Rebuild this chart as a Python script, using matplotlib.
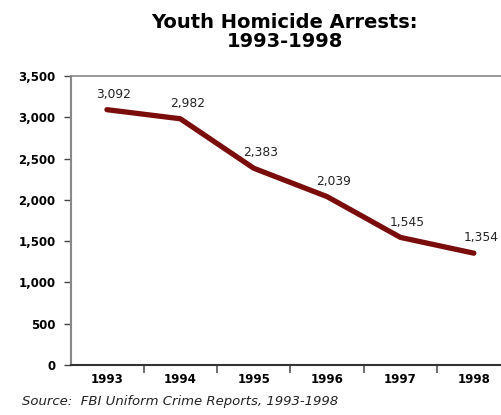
import matplotlib
matplotlib.use('Agg')
import matplotlib.pyplot as plt

# Data
years = ['1993', '1994', '1995', '1996', '1997', '1998']
arrests = [3092, 2982, 2383, 2039, 1545, 1354]
y_ticks = [0, 500, 1000, 1500, 2000, 2500, 3000, 3500]
source = 'Source:  FBI Uniform Crime Reports, 1993-1998'

fig = plt.figure(figsize=(5.01, 4.15), dpi=100)
ax = fig.add_axes([0.1417, 0.1205, 0.8583, 0.6964])

pos = list(range(len(years)))
ax.plot(pos, arrests, color='#7a0c0c', lw=3.8, solid_capstyle='round',
        solid_joinstyle='round', clip_on=False)

for x, v in zip(pos, arrests):
    ax.annotate(f'{v:,}', (x, v), xytext=(5, 11), textcoords='offset points',
                ha='center', va='center', fontsize=8.8, color='#222222')

ax.set_xlim(-0.49, 5.37)
ax.set_ylim(0, 3500)

ax.set_yticks(y_ticks)
ax.set_yticklabels([f'{t:,}' for t in y_ticks], fontsize=8.5, fontweight='bold')
ax.tick_params(axis='y', length=5, width=1, color='#444444', pad=6)

# category labels centered, tick marks between categories
ax.set_xticks(pos)
ax.set_xticklabels(years, fontsize=8.5, fontweight='bold')
ax.tick_params(axis='x', which='major', length=0, pad=6)
ax.set_xticks([p + 0.5 for p in pos[:-1]], minor=True)
ax.tick_params(axis='x', which='minor', length=6, width=1.2, color='#555555')

ax.spines['right'].set_visible(False)
ax.spines['top'].set_color('#888888')
ax.spines['top'].set_linewidth(1.2)
ax.spines['left'].set_color('#888888')
ax.spines['left'].set_linewidth(1.5)
ax.spines['bottom'].set_color('#333333')
ax.spines['bottom'].set_linewidth(1.5)

fig.text(0.568, 0.968, 'Youth Homicide Arrests:\n1993-1998', ha='center', va='top',
         fontsize=14, fontweight='bold', linespacing=1.0)
fig.text(0.044, 0.032, source, ha='left', va='center', fontsize=9.5, style='italic',
         color='#222222')

fig.savefig('out.png', dpi=100)
